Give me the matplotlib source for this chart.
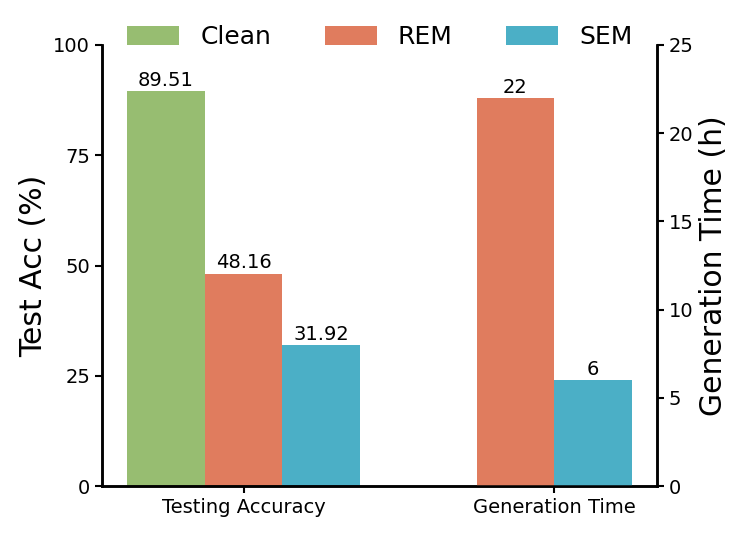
import numpy as np
import matplotlib
matplotlib.use('Agg')
import matplotlib.pyplot as plt

# data
groups = ['Testing Accuracy', 'Generation Time']
methods = ['Clean', 'REM', 'SEM']
acc = [89.51, 48.16, 31.92]          # Clean, REM, SEM (left axis)
gen_time = [22, 6]                   # REM, SEM (right axis, hours)
colors = ['#97bd71', '#e07c5e', '#4bafc6']

w = 0.25
fig = plt.figure(figsize=(7.48, 5.34), dpi=100)
ax = fig.add_axes([102 / 748, 1 - 486 / 534, 555 / 748, 441 / 534])
ax2 = ax.twinx()

# testing accuracy group (left axis)
bars = []
for i, (m, v) in enumerate(zip(methods, acc)):
    b = ax.bar(0 + (i - 1) * w, v, w, color=colors[i], label=m)
    ax.bar_label(b, fmt='%g', fontsize=14, padding=1)
    bars.append(b)

# generation time group (right axis)
for i, v in enumerate(gen_time):
    b = ax2.bar(1 + (i - 0.5) * w, v, w, color=colors[i + 1])
    ax2.bar_label(b, fmt='%g', fontsize=14, padding=1)

ax.set_xticks([0, 1])
ax.set_xticklabels(groups, fontsize=14)
ax.set_ylim(0, 100)
ax.set_yticks([0, 25, 50, 75, 100])
ax2.set_ylim(0, 25)
ax2.set_yticks([0, 5, 10, 15, 20, 25])
ax.tick_params(axis='y', labelsize=14, width=1.5, length=5)
ax.tick_params(axis='x', width=1.5, length=5)
ax2.tick_params(axis='y', labelsize=14, width=1.5, length=5)
ax.set_ylabel('Test Acc (%)', fontsize=21.5)
ax2.set_ylabel('Generation Time (h)', fontsize=21.5)

for a in (ax, ax2):
    a.spines['top'].set_visible(False)
    for s in ('left', 'right', 'bottom'):
        a.spines[s].set_linewidth(1.8)

fig.legend(handles=bars, labels=methods, loc='center', ncol=3, frameon=False,
           fontsize=18, handlelength=2.08, handleheight=0.8, handletextpad=0.84,
           columnspacing=2.14, bbox_to_anchor=(380 / 748, 1 - 37 / 534))

fig.savefig('out.png', dpi=100)
